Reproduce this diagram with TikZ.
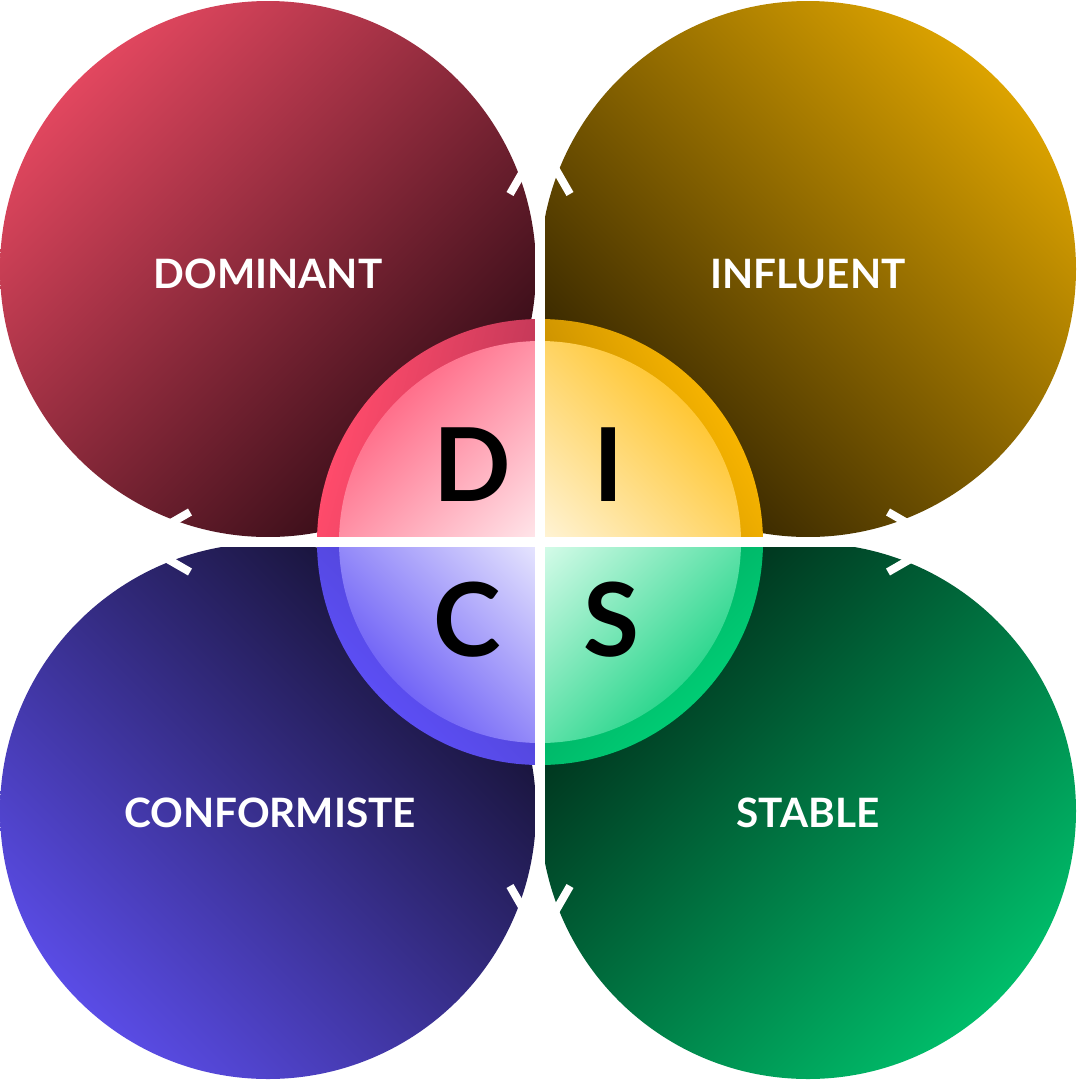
\documentclass[tikz,border=0pt]{standalone}
\usepackage{fontspec}
\setmainfont{Lato}
\usetikzlibrary{calc}
\definecolor{tlA}{HTML}{E2475F}\definecolor{tlB}{HTML}{2E0A14}
\definecolor{trA}{HTML}{DCA300}\definecolor{trB}{HTML}{2E2000}
\definecolor{blA}{HTML}{5A4CE6}\definecolor{blB}{HTML}{14102E}
\definecolor{brA}{HTML}{00BD6A}\definecolor{brB}{HTML}{002A18}
\definecolor{dRingA}{HTML}{FF4B6B}\definecolor{dRingB}{HTML}{902848}
\definecolor{iRingA}{HTML}{F7B400}\definecolor{iRingB}{HTML}{966800}
\definecolor{cRingA}{HTML}{5C4EF5}\definecolor{cRingB}{HTML}{3C3498}
\definecolor{sRingA}{HTML}{00CC74}\definecolor{sRingB}{HTML}{007A48}
\definecolor{dFaceA}{HTML}{FF6784}\definecolor{dFaceB}{HTML}{FFF2F4}
\definecolor{iFaceA}{HTML}{FFC42A}\definecolor{iFaceB}{HTML}{FFF8E6}
\definecolor{cFaceA}{HTML}{6A5CF6}\definecolor{cFaceB}{HTML}{F2F2FF}
\definecolor{sFaceA}{HTML}{22D488}\definecolor{sFaceB}{HTML}{E6FFF2}
% #1,#2 clip rectangle corners; #3 centre; #4 radius; #5 angle;
% #6 colour at local top; #7 colour at local bottom; #8 top distance; #9 bottom distance
\newcommand\gradpiece[9]{%
  \begin{scope}
    \clip (#3) circle (#4pt);
    \clip (#1) rectangle (#2);
    \begin{scope}[transform canvas={rotate around={#5:(#3)}}]
      \shade[top color=#6, bottom color=#7] ($(#3)+(-700,-#8)$) rectangle ($(#3)+(700,#9)$);
    \end{scope}
  \end{scope}}
\begin{document}
\begin{tikzpicture}[x=1pt,y=-1pt,
  quadlabel/.style={text=white, font=\fontsize{40.5}{40.5}\selectfont\bfseries, inner sep=0pt, anchor=base},
  discletter/.style={text=black, font=\fontsize{102}{102}\selectfont\bfseries, inner sep=0pt, anchor=base},
  crossline/.style={draw=white, line width=10pt},
  armline/.style={draw=white, line width=8pt, line cap=butt}]
\useasboundingbox (0,0) rectangle (1078,1080);
\fill[white] (0,0) rectangle (1078,1080);
% large circles
\gradpiece{0,0}{1078,1080}{268,269}{268}{45}{tlA}{tlB}{268}{268}
\gradpiece{0,0}{1078,1080}{808,269}{268}{-45}{trA}{trB}{268}{268}
\gradpiece{0,0}{1078,1080}{268,811}{268}{-45}{blB}{blA}{268}{268}
\gradpiece{0,0}{1078,1080}{808,811}{268}{45}{brB}{brA}{268}{268}
% central disc rings
\gradpiece{0,0}{540,542}{540,542}{223}{75}{dRingA}{dRingB}{223}{100}
\gradpiece{540,0}{1078,542}{540,542}{223}{-60}{iRingA}{iRingB}{223}{60}
\gradpiece{0,542}{540,1080}{540,542}{223}{-45}{cRingB}{cRingA}{100}{223}
\gradpiece{540,542}{1078,1080}{540,542}{223}{45}{sRingB}{sRingA}{100}{223}
% central disc faces
\gradpiece{0,0}{540,542}{540,542}{201}{45}{dFaceA}{dFaceB}{215}{15}
\gradpiece{540,0}{1078,542}{540,542}{201}{-45}{iFaceA}{iFaceB}{215}{15}
\gradpiece{0,542}{540,1080}{540,542}{201}{-45}{cFaceB}{cFaceA}{15}{215}
\gradpiece{540,542}{1078,1080}{540,542}{201}{45}{sFaceB}{sFaceA}{15}{215}
% double-headed axes
\coordinate (top) at (540,142);
\coordinate (bottom) at (540,938);
\coordinate (left) at (138,542);
\coordinate (right) at (940,542);
\draw[crossline] (top) -- (bottom);
\draw[crossline] (left) -- (right);
\draw[armline] ($(top)+(-30,52)$) -- (top) -- ($(top)+(30,52)$);
\draw[armline] ($(bottom)+(-30,-52)$) -- (bottom) -- ($(bottom)+(30,-52)$);
\draw[armline] ($(left)+(52,-30)$) -- (left) -- ($(left)+(52,30)$);
\draw[armline] ($(right)+(-52,-30)$) -- (right) -- ($(right)+(-52,30)$);
% labels
\node[quadlabel] (dominant) at (268,288) {DOMINANT};
\node[quadlabel] (influent) at (808,288) {INFLUENT};
\node[quadlabel] (conformiste) at (270,827) {CONFORMISTE};
\node[quadlabel] (stable) at (808,827) {STABLE};
\node[discletter] (D) at (472,501) {D};
\node[discletter] (I) at (609,501) {I};
\node[discletter] (C) at (467,656) {C};
\node[discletter] (S) at (611,656) {S};
\end{tikzpicture}
\end{document}
